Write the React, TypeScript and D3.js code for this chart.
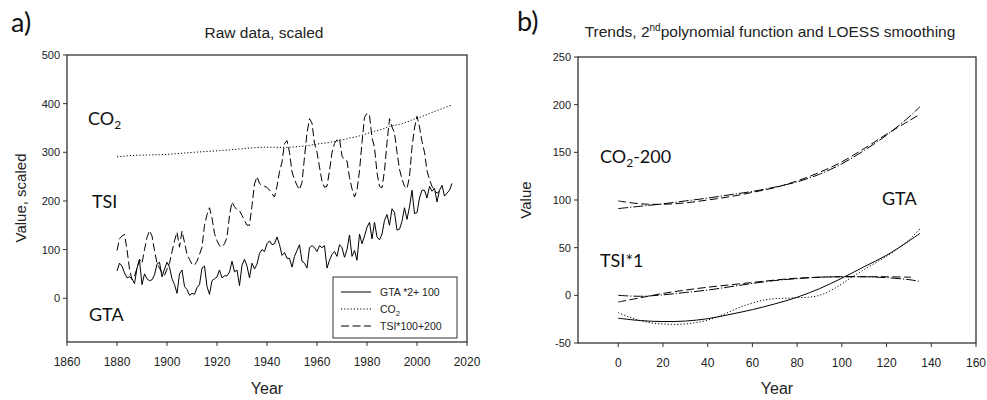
import React from 'react';
import * as d3 from 'd3';

// ---- Panel a: raw series (annual) ----
const gtaYears = d3.range(1880, 2015);
// Global temperature anomaly, scaled as GTA*2+100
const gtaScaled = [
  56, 72, 66, 52, 42, 44, 40, 30, 62, 78,
  28, 50, 40, 36, 38, 48, 70, 74, 44, 60,
  74, 64, 40, 28, 10, 50, 58, 24, 18, 6,
  10, 8, 22, 28, 62, 66, 24, 8, 36, 40,
  44, 58, 42, 46, 46, 54, 76, 54, 58, 26,
  68, 80, 66, 42, 72, 60, 70, 92, 100, 96,
  112, 118, 110, 112, 126, 110, 88, 94, 82, 82,
  64, 86, 98, 110, 76, 72, 62, 104, 108, 104,
  96, 108, 104, 108, 62, 78, 90, 96, 86, 110,
  104, 84, 100, 130, 86, 98, 78, 132, 112, 128,
  146, 156, 122, 156, 126, 120, 132, 160, 172, 150,
  184, 176, 140, 142, 158, 186, 162, 188, 222, 174,
  176, 206, 222, 222, 206, 230, 220, 226, 198, 222,
  232, 210, 216, 222, 236,
];

const co2Years = d3.range(1880, 2015);
// Atmospheric CO2 (ppm)
const co2Ppm = [
  290.7, 291.2, 291.7, 292.1, 292.6, 293.0, 293.3, 293.6, 293.8, 294.0,
  294.2, 294.3, 294.5, 294.6, 294.7, 294.8, 294.9, 295.0, 295.2, 295.5,
  295.8, 296.1, 296.5, 296.8, 297.2, 297.6, 298.1, 298.5, 298.9, 299.3,
  299.7, 300.1, 300.4, 300.8, 301.1, 301.4, 301.7, 302.1, 302.4, 302.7,
  303.0, 303.4, 303.8, 304.1, 304.5, 305.0, 305.4, 305.8, 306.3, 306.8,
  307.2, 307.7, 308.2, 308.6, 309.0, 309.4, 309.8, 310.0, 310.2, 310.3,
  310.4, 310.4, 310.3, 310.2, 310.1, 310.1, 310.1, 310.2, 310.3, 310.5,
  310.7, 311.1, 311.5, 311.9, 312.4, 313.0, 313.6, 314.2, 315.0, 316.0,
  316.9, 317.6, 318.5, 319.0, 319.6, 320.0, 321.4, 322.2, 323.0, 324.6,
  325.7, 326.3, 327.5, 329.7, 330.2, 331.1, 332.1, 333.8, 335.4, 336.8,
  338.7, 340.1, 341.4, 343.0, 344.6, 346.0, 347.4, 349.2, 351.6, 353.1,
  354.4, 355.6, 356.4, 357.1, 358.8, 360.8, 362.6, 363.7, 366.7, 368.4,
  369.7, 371.3, 373.5, 375.8, 377.5, 379.8, 381.9, 383.8, 385.6, 387.4,
  389.9, 391.7, 393.9, 395.8, 396.8,
];

const tsiYears = d3.range(1880, 2010);
// Total solar irradiance, scaled as TSI*100+200
const tsiScaled = [
  98, 122, 128, 131, 100, 60, 38, 45, 62, 80,
  72, 100, 125, 139, 128, 98, 72, 62, 52, 47,
  60, 72, 96, 118, 136, 105, 138, 115, 90, 80,
  70, 68, 76, 90, 105, 150, 172, 186, 165, 133,
  118, 108, 105, 112, 125, 170, 198, 188, 182, 180,
  170, 160, 150, 150, 190, 235, 250, 236, 232, 230,
  228, 222, 215, 208, 230, 260, 280, 318, 324, 300,
  260, 244, 232, 223, 238, 290, 340, 369, 360, 318,
  300, 270, 240, 228, 230, 262, 300, 318, 326, 328,
  292, 284, 282, 248, 225, 208, 222, 262, 320, 372,
  380, 376, 330, 310, 258, 230, 227, 262, 320, 369,
  352, 340, 300, 265, 245, 230, 225, 250, 310, 350,
  374, 352, 322, 300, 262, 244, 230, 222, 216, 220,
];

const rawYearTicks = [1860, 1880, 1900, 1920, 1940, 1960, 1980, 2000, 2020];
const rawValueTicks = [0, 100, 200, 300, 400, 500];

// ---- Panel b: trends (years since 1880) ----
const trendX = [0, 10, 20, 30, 40, 50, 60, 70, 80, 90, 100, 110, 120, 130, 135];
const co2LoessTrend = [99, 96, 95.5, 97, 100, 103.5, 108, 113, 120, 129, 140, 154, 169, 183, 190];
const co2PolyTrend = [91, 93.5, 96, 99, 102, 105.5, 109, 113.5, 119, 127, 138, 152, 168, 187, 198];
const gtaPolyTrend = [-24, -26.5, -27.5, -27, -24.5, -20, -15, -9, -2, 7, 18, 30, 42, 57, 65];
const gtaLoessX = [0, 5, 10, 15, 20, 25, 30, 35, 40, 45, 50, 55, 60, 65, 70, 75, 80, 85, 90, 95, 100, 105, 110, 115, 120, 125, 130, 135];
const gtaLoessTrend = [-18, -23, -26.5, -29, -30, -30.5, -30, -28.5, -26, -22, -17, -12, -8, -5, -3.5, -3, -2.5, -2, 0, 5, 12, 20, 27, 34, 41, 49, 58, 70];
const tsiLoessX = [0, 10, 20, 30, 40, 50, 60, 70, 80, 90, 100, 110, 120, 131];
const tsiLoessTrend = [-7, -2.5, 2, 5.5, 8.5, 11, 13.5, 16, 18, 19, 19.5, 19.5, 19.5, 19];
const tsiPolyTrend = [0, -1, 0.5, 3, 5.5, 9, 12.5, 15.5, 17.5, 19, 19.5, 19.5, 18.5, 16.5, 14.5];

const trendXTicks = [0, 20, 40, 60, 80, 100, 120, 140, 160];
const trendValueTicks = [-50, 0, 50, 100, 150, 200, 250];

const SANS = "'Liberation Sans', Arial, sans-serif";
const HUMAN = "Lato, 'Open Sans', sans-serif";
const AXIS = '#333';

const DASH = '8,3.5';
const DASH_DOT = '10,2,1.2,2';
const DOT = '1.2,2';

type Pt = [number, number];
const zip = (xs: number[], ys: number[]): Pt[] => xs.map((x, i) => [x, ys[i]]);

function Frame({ x, y, xTicks, yTicks }: {
  x: d3.ScaleLinear<number, number>;
  y: d3.ScaleLinear<number, number>;
  xTicks: number[];
  yTicks: number[];
}) {
  const [x0, x1] = x.range();
  const [y0, y1] = y.range();
  return (
    <g>
      <rect x={x0} y={y1} width={x1 - x0} height={y0 - y1} fill="none" stroke={AXIS} strokeWidth={1.3} />
      {yTicks.map((t) => (
        <g key={'y' + t}>
          <line x1={x0 - 4} x2={x0} y1={y(t)} y2={y(t)} stroke={AXIS} strokeWidth={1} />
          <text x={x0 - 7} y={y(t) + 4} textAnchor="end" fontFamily={SANS} fontSize={11} fill="#222">{t}</text>
        </g>
      ))}
      {xTicks.map((t) => (
        <g key={'x' + t}>
          <line x1={x(t)} x2={x(t)} y1={y0} y2={y0 + 4} stroke={AXIS} strokeWidth={1} />
          <text x={x(t)} y={y0 + 24} textAnchor="middle" fontFamily={SANS} fontSize={12} fill="#222">{t}</text>
        </g>
      ))}
    </g>
  );
}

export default function App() {
  // Panel a scales
  const xA = d3.scaleLinear().domain([1860, 2020]).range([67, 467]);
  const yA = d3.scaleLinear().domain([-90, 500]).range([342, 55]);
  const lineA = d3.line<Pt>().x((d) => xA(d[0])).y((d) => yA(d[1]));

  // Panel b scales
  const xB = d3.scaleLinear().domain([-18, 160]).range([578, 976]);
  const yB = d3.scaleLinear().domain([-50, 250]).range([343, 57]);
  const lineB = d3.line<Pt>().x((d) => xB(d[0])).y((d) => yB(d[1])).curve(d3.curveCatmullRom.alpha(0.5));

  const legendX = 333;
  const legendY = 277;
  const legendRows = [
    { dash: undefined as string | undefined, label: 'gta' },
    { dash: DOT, label: 'co2' },
    { dash: DASH, label: 'tsi' },
  ];

  return (
    <svg width={987} height={400} style={{ position: 'absolute', left: 0, top: 0, background: '#fff' }}>
      {/* ---------- a) ---------- */}
      <text x={11} y={32} fontFamily={HUMAN} fontSize={27} fill="#111">a)</text>
      <text x={264} y={38} textAnchor="middle" fontFamily={SANS} fontSize={15.5} fill="#222">Raw data, scaled</text>
      <Frame x={xA} y={yA} xTicks={rawYearTicks} yTicks={rawValueTicks} />
      <text transform="translate(26,198) rotate(-90)" textAnchor="middle" fontFamily={SANS} fontSize={15} fill="#222">Value, scaled</text>
      <text x={267} y={394} textAnchor="middle" fontFamily={SANS} fontSize={16} fill="#222">Year</text>

      <path d={lineA(zip(co2Years, co2Ppm)) ?? ''} fill="none" stroke="#000" strokeWidth={1} strokeDasharray={DOT} />
      <path d={lineA(zip(tsiYears, tsiScaled)) ?? ''} fill="none" stroke="#000" strokeWidth={1} strokeDasharray={DASH} />
      <path d={lineA(zip(gtaYears, gtaScaled)) ?? ''} fill="none" stroke="#000" strokeWidth={1} />

      <text x={88} y={125} fontFamily={HUMAN} fontSize={18} fill="#111">CO<tspan dy={4} fontSize={12}>2</tspan></text>
      <text x={92} y={208} fontFamily={HUMAN} fontSize={18} fill="#111">TSI</text>
      <text x={89} y={321} fontFamily={HUMAN} fontSize={18} fill="#111">GTA</text>

      <g>
        <rect x={legendX} y={legendY} width={124} height={61} fill="#fff" stroke={AXIS} strokeWidth={1} />
        {legendRows.map((r, i) => {
          const ly = legendY + 15 + i * 17;
          return (
            <g key={r.label}>
              <line x1={legendX + 8} x2={legendX + 38} y1={ly} y2={ly} stroke="#000" strokeWidth={1} strokeDasharray={r.dash} />
              <text x={legendX + 47} y={ly + 4} fontFamily={SANS} fontSize={10.5} fill="#222">
                {r.label === 'gta' && 'GTA *2+ 100'}
                {r.label === 'co2' && (<>CO<tspan dy={3} fontSize={7.5}>2</tspan></>)}
                {r.label === 'tsi' && 'TSI*100+200'}
              </text>
            </g>
          );
        })}
      </g>

      {/* ---------- b) ---------- */}
      <text x={517} y={31} fontFamily={HUMAN} fontSize={27} fill="#111">b)</text>
      <text x={770} y={37} textAnchor="middle" fontFamily={SANS} fontSize={15.5} fill="#222">
        Trends, 2<tspan dy={-6} fontSize={10}>nd</tspan><tspan dy={6}>polynomial function and LOESS smoothing</tspan>
      </text>
      <Frame x={xB} y={yB} xTicks={trendXTicks} yTicks={trendValueTicks} />
      <text transform="translate(531,200) rotate(-90)" textAnchor="middle" fontFamily={SANS} fontSize={15} fill="#222">Value</text>
      <text x={777} y={394} textAnchor="middle" fontFamily={SANS} fontSize={16} fill="#222">Year</text>

      <path d={lineB(zip(trendX, co2LoessTrend)) ?? ''} fill="none" stroke="#000" strokeWidth={1} strokeDasharray={DASH} />
      <path d={lineB(zip(trendX, co2PolyTrend)) ?? ''} fill="none" stroke="#000" strokeWidth={1} strokeDasharray={DASH_DOT} />
      <path d={lineB(zip(tsiLoessX, tsiLoessTrend)) ?? ''} fill="none" stroke="#000" strokeWidth={1} strokeDasharray={DASH} />
      <path d={lineB(zip(trendX, tsiPolyTrend)) ?? ''} fill="none" stroke="#000" strokeWidth={1} strokeDasharray={DASH_DOT} />
      <path d={lineB(zip(gtaLoessX, gtaLoessTrend)) ?? ''} fill="none" stroke="#000" strokeWidth={1} strokeDasharray={DOT} />
      <path d={lineB(zip(trendX, gtaPolyTrend)) ?? ''} fill="none" stroke="#000" strokeWidth={1} />

      <text x={600} y={163} fontFamily={HUMAN} fontSize={18} fill="#111">CO<tspan dy={4} fontSize={12}>2</tspan><tspan dy={-4}>-200</tspan></text>
      <text x={882} y={205} fontFamily={HUMAN} fontSize={18} fill="#111">GTA</text>
      <text x={600} y={267} fontFamily={HUMAN} fontSize={18} fill="#111">TSI*1</text>
    </svg>
  );
}
